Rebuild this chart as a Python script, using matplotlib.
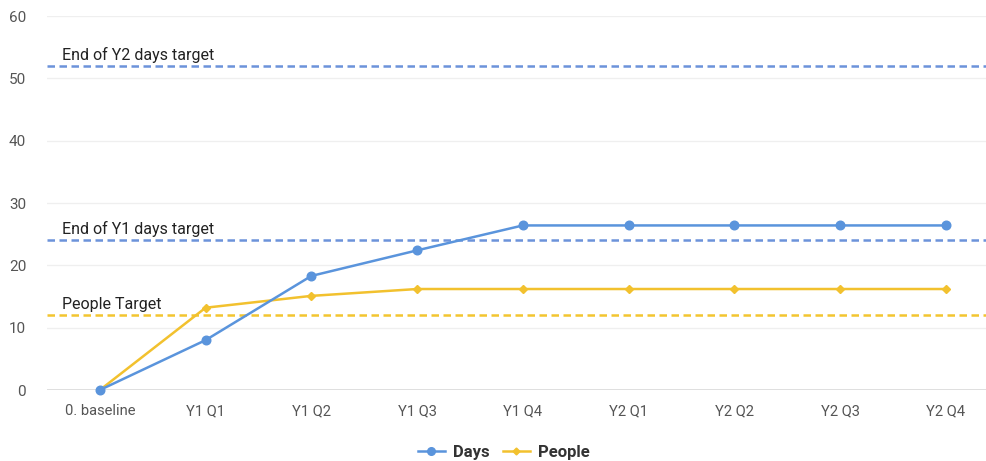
import matplotlib
matplotlib.use("Agg")
import matplotlib.pyplot as plt
from matplotlib.lines import Line2D

categories = ["0. baseline", "Y1 Q1", "Y1 Q2", "Y1 Q3", "Y1 Q4", "Y2 Q1", "Y2 Q2", "Y2 Q3", "Y2 Q4"]
days = [0, 8, 18.3, 22.4, 26.4, 26.4, 26.4, 26.4, 26.4]
people = [0, 13.2, 15.1, 16.2, 16.2, 16.2, 16.2, 16.2, 16.2]
target_labels = ["End of Y2 days target", "End of Y1 days target", "People Target"]
target_values = [52, 24, 12]
yticks = [0, 10, 20, 30, 40, 50, 60]

BLUE = "#5A94DC"
BLUE_DASH = "#6C93DA"
YELLOW = "#F2C12E"
YELLOW_DASH = "#F3C530"

plt.rcParams['font.family'] = ['Roboto', 'DejaVu Sans']

fig = plt.figure(figsize=(9.87, 4.61), dpi=100)
ax = fig.add_axes([47/987, 1 - 390/461, 1 - 47/987, (390 - 16)/461])

x = list(range(len(categories)))
ax.set_xlim(-0.5, 8.39)
ax.set_ylim(0, 60)

for yv in yticks[1:]:
    ax.axhline(yv, color="#EFEFEF", lw=0.9, zorder=0)
ax.axhline(0, color="#D9D9D9", lw=1.2, zorder=1)

target_colors = [BLUE_DASH, BLUE_DASH, YELLOW_DASH]
for lab, val, c in zip(target_labels, target_values, target_colors):
    ax.axhline(val, color=c, lw=1.8, dashes=(3.0, 1.8), zorder=2)
    ax.annotate(lab, xy=(0, val), xycoords=("axes fraction", "data"),
                xytext=(15, 3), textcoords="offset pixels",
                ha="left", va="bottom", fontsize=11.5, color="#222222", zorder=5)

ax.plot(x, days, color=BLUE, lw=1.8, marker="o", markersize=6.2, zorder=4, clip_on=False)
ax.plot(x, people, color=YELLOW, lw=1.8, marker="D", markersize=3.8, zorder=3, clip_on=False)

ax.set_xticks(x)
ax.set_xticklabels(categories, fontsize=10.6, color="#555555")
ax.set_yticks(yticks)
ax.set_yticklabels([str(v) for v in yticks], fontsize=11, color="#555555")
ax.tick_params(axis="both", length=0)
ax.tick_params(axis="x", pad=10)
ax.tick_params(axis="y", pad=15)
for s in ax.spines.values():
    s.set_visible(False)

handles = [Line2D([0], [0], color=BLUE, lw=1.8, marker="o", markersize=5.5),
           Line2D([0], [0], color=YELLOW, lw=1.8, marker="D", markersize=3.5)]
leg = fig.legend(handles, ["Days", "People"], loc="center", bbox_to_anchor=(504/987, 1 - 452/461),
                 ncol=2, frameon=False, handlelength=1.6, columnspacing=0.8, handletextpad=0.5,
                 prop={"weight": "bold", "size": 12})
for t in leg.get_texts():
    t.set_color("#333333")

fig.savefig("out.png", dpi=100)
